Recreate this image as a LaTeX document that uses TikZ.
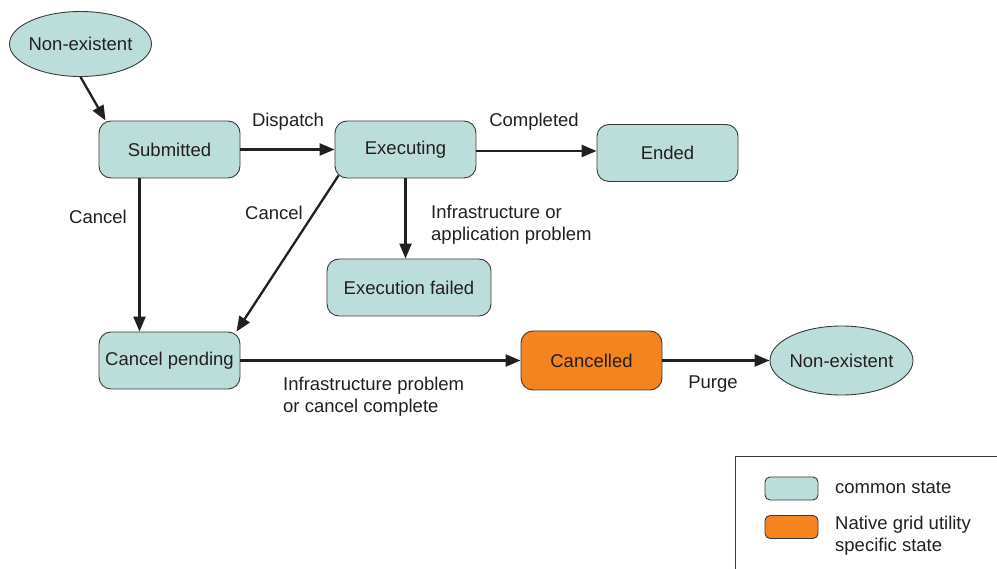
\documentclass[tikz,border=0pt]{standalone}
\usepackage{fontspec}
\setmainfont{Liberation Sans}
\usetikzlibrary{arrows.meta,shapes.geometric}
\definecolor{stateteal}{HTML}{BCDEDA}
\definecolor{stateorange}{HTML}{F48420}
\definecolor{edgegray}{HTML}{3A3A3A}
\definecolor{inkdark}{HTML}{231F20}
\tikzset{
  statebox/.style={draw=edgegray, line width=0.9pt, fill=stateteal, rounded corners=12pt,
    minimum width=141pt, minimum height=57pt, inner sep=0pt,
    font=\fontsize{18.5}{22}\selectfont, text=inkdark},
  specialbox/.style={statebox, fill=stateorange},
  endstate/.style={draw=edgegray, line width=0.9pt, fill=stateteal, ellipse,
    minimum width=142pt, minimum height=65pt, inner xsep=-15pt, inner ysep=0pt,
    font=\fontsize{18.5}{22}\selectfont, text=inkdark},
  flow/.style={draw=inkdark, line width=2.3pt, -{Triangle[length=15pt,width=12pt]}},
  edgelabel/.style={font=\fontsize{18.5}{22}\selectfont, text=inkdark, inner sep=0pt},
  swatch/.style={draw=edgegray, line width=0.9pt, rounded corners=5pt,
    minimum width=53pt, minimum height=23pt, inner sep=0pt},
}
\begin{document}
\begin{tikzpicture}[x=1pt,y=-1pt]
\useasboundingbox (0,0) rectangle (997,569);

% states
\node[endstate] (start) at (80.5,44) {Non-existent};
\node[statebox] (sub) at (169.5,149.5) {Submitted};
\node[statebox] (exe) at (405.5,149.5) {Executing};
\node[statebox] (ended) at (667.5,153) {Ended};
\node[statebox, minimum width=164pt] (fail) at (409,287.5) {Execution failed};
\node[statebox] (pend) at (169.5,360.5) {Cancel pending};
\node[specialbox, minimum height=59pt] (canc) at (591.5,360.5) {Cancelled};
\node[endstate, minimum width=143pt, minimum height=69pt] (gone) at (841.5,360.5) {Non-existent};

% transitions
\draw[flow] (start.south) -- ([xshift=7pt]sub.north west);
\draw[flow] (sub.east) -- (exe.west);
\draw[flow] ([yshift=-1.5pt]exe.east) -- ([yshift=2pt]ended.west);
\draw[flow] ([xshift=-30pt]sub.south) -- ([xshift=-30pt]pend.north);
\draw[flow] ([xshift=4pt,yshift=3pt]exe.south west) -- ([xshift=-4pt]pend.north east);
\draw[flow] (exe.south) -- (exe.south |- fail.north);
\draw[flow] (pend.east) -- (canc.west);
\draw[flow] (canc.east) -- (gone.west);

% transition labels
\node[edgelabel] (l1) at (288,122) {Dispatch};
\node[edgelabel] (l2) at (534,122) {Completed};
\node[edgelabel] (l3) at (98,217) {Cancel};
\node[edgelabel] (l4) at (274,213) {Cancel};
\node[edgelabel, anchor=west, align=left] (l5) at (431,225) {Infrastructure or\\application problem};
\node[edgelabel, anchor=west, align=left] (l6) at (283,397) {Infrastructure problem\\or cancel complete};
\node[edgelabel] (l7) at (713,384) {Purge};

% legend
\draw[edgegray, line width=0.9pt] (735.5,569) -- (735.5,456.5) -- (997,456.5);
\node[swatch, fill=stateteal] (k1) at (791.5,488.5) {};
\node[swatch, fill=stateorange] (k2) at (791.5,527) {};
\node[edgelabel, anchor=west] (t1) at (835,488) {common state};
\node[edgelabel, anchor=west, align=left] (t2) at (835,536) {Native grid utility\\specific state};
\end{tikzpicture}
\end{document}
